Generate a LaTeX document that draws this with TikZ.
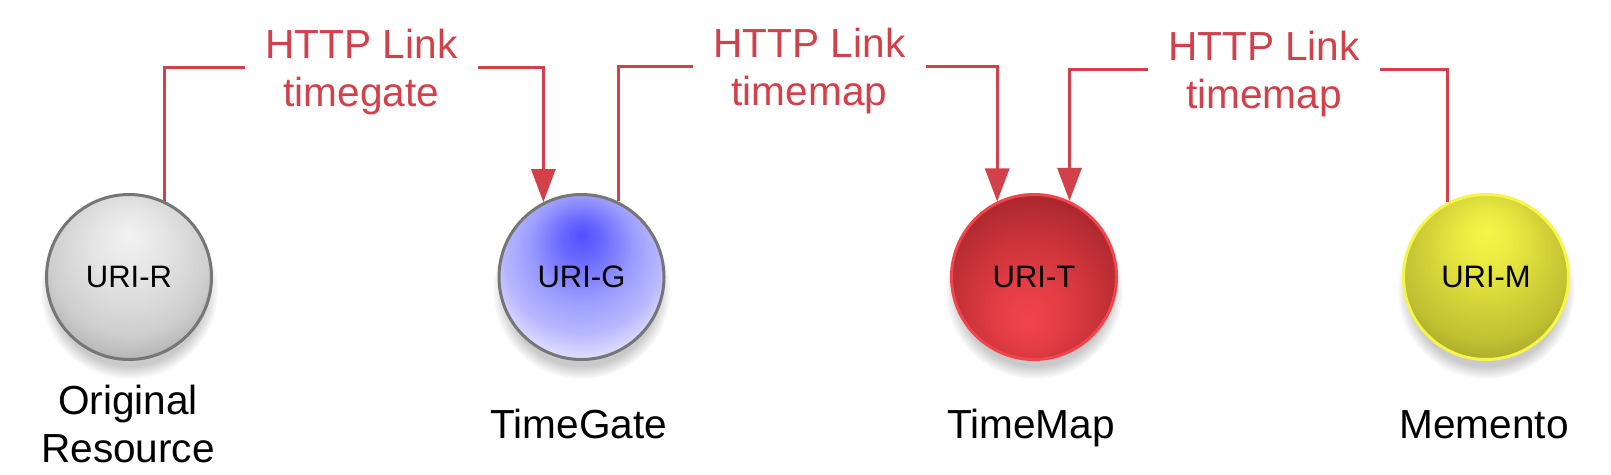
\documentclass[tikz,border=0pt]{standalone}
\usepackage{fontspec}
\setmainfont{Liberation Sans}
\usetikzlibrary{arrows.meta,shadows}
\definecolor{rojoL}{HTML}{D2404A}
\definecolor{grisB}{HTML}{767676}
\definecolor{rojoB}{HTML}{F4434B}
\definecolor{amarB}{HTML}{F6F64A}
\pgfdeclareradialshading{bolaR}{\pgfpoint{0bp}{13bp}}{color(0bp)=(white!95!black); color(12bp)=(white!89!black); color(24bp)=(white!81!black); color(31bp)=(white!70!black); color(50bp)=(white!70!black)}
\pgfdeclareradialshading{bolaG}{\pgfpoint{0bp}{13bp}}{color(0bp)=(rgb,255:red,80;green,80;blue,255); color(6bp)=(rgb,255:red,104;green,104;blue,255); color(16bp)=(rgb,255:red,156;green,156;blue,255); color(24bp)=(rgb,255:red,184;green,184;blue,255); color(31bp)=(rgb,255:red,230;green,230;blue,255); color(50bp)=(rgb,255:red,230;green,230;blue,255)}
\pgfdeclareradialshading{bolaT}{\pgfpoint{-2bp}{-14bp}}{color(0bp)=(rgb,255:red,242;green,68;blue,76); color(10bp)=(rgb,255:red,228;green,61;blue,69); color(20bp)=(rgb,255:red,203;green,51;blue,58); color(27bp)=(rgb,255:red,181;green,44;blue,50); color(32bp)=(rgb,255:red,164;green,37;blue,43); color(50bp)=(rgb,255:red,164;green,37;blue,43)}
\pgfdeclareradialshading{bolaM}{\pgfpoint{0bp}{14bp}}{color(0bp)=(rgb,255:red,246;green,246;blue,72); color(10bp)=(rgb,255:red,230;green,230;blue,64); color(18bp)=(rgb,255:red,210;green,210;blue,56); color(26bp)=(rgb,255:red,192;green,192;blue,50); color(32bp)=(rgb,255:red,166;green,166;blue,42); color(50bp)=(rgb,255:red,166;green,166;blue,42)}
\begin{document}
\begin{tikzpicture}[x=0.5pt,y=-0.5pt,
  uri/.style={circle,inner sep=0pt,minimum size=82.5pt,line width=1.5pt,font=\fontsize{15.5}{18}\selectfont,
    circular drop shadow={shadow xshift=0pt,shadow yshift=-6pt,shadow scale=1.08,opacity=.42}},
  nom/.style={font=\fontsize{20.3}{24}\selectfont,align=center,inner sep=0pt},
  enl/.style={nom,text=rojoL,inner xsep=10pt,text depth=0pt},
  lnk/.style={rojoL,line width=1.5pt},
  flecha/.style={lnk,-{Triangle[length=16.5pt,width=12pt]}}]
  \useasboundingbox (0,0) rectangle (1611,475);
  \node[uri,draw=grisB,shading=bolaR] (uriR) at (129,277) {URI-R};
  \node[uri,draw=grisB,shading=bolaG] (uriG) at (581.5,277) {URI-G};
  \node[uri,draw=rojoB,shading=bolaT] (uriT) at (1034,277) {URI-T};
  \node[uri,draw=amarB,shading=bolaM] (uriM) at (1486,277) {URI-M};
  \node[nom,anchor=north] (nomR) at (128,385) {Original\\Resource};
  \node[nom,anchor=base] (nomG) at (579,438) {TimeGate};
  \node[nom,anchor=base] (nomT) at (1031,438) {TimeMap};
  \node[nom,anchor=base] (nomM) at (1484,438) {Memento};
  \node[enl] (enlA) at (361.5,68) {HTTP Link\\timegate};
  \node[enl] (enlB) at (809.5,66.5) {HTTP Link\\timemap};
  \node[enl] (enlC) at (1264,70) {HTTP Link\\timemap};
  \draw[lnk] (uriR.65) |- (enlA.west);
  \draw[flecha] (enlA.east) -| (uriG.117);
  \draw[lnk] (uriG.64) |- (enlB.west);
  \draw[flecha] (enlB.east) -| (uriT.116);
  \draw[lnk] (uriM.117) |- (enlC.east);
  \draw[flecha] (enlC.west) -| (uriT.65);
\end{tikzpicture}
\end{document}
